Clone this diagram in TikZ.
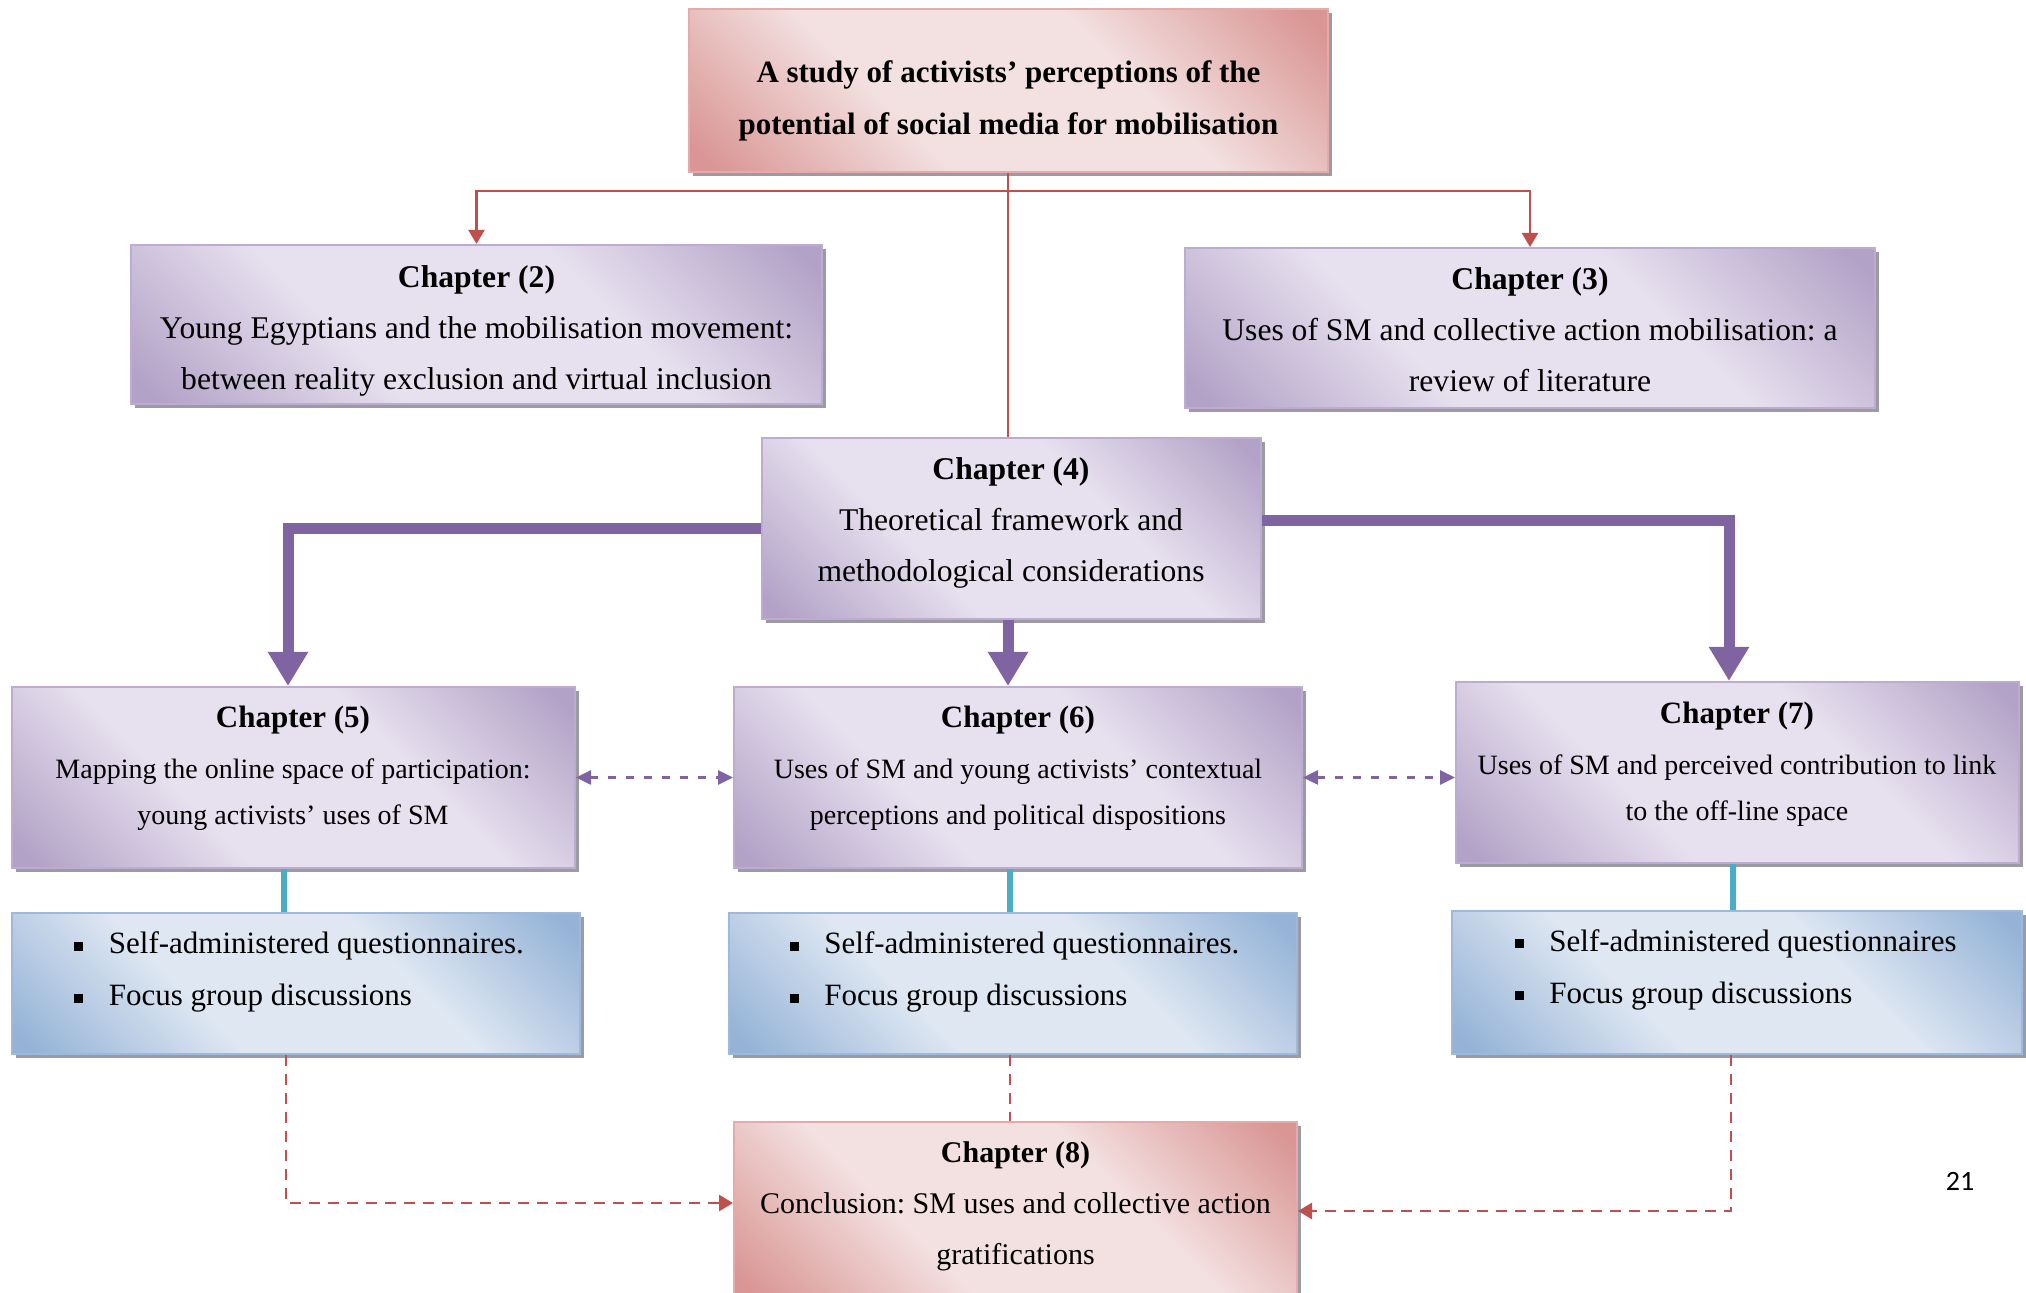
\documentclass[tikz,border=0pt]{standalone}
\usepackage{fontspec}
\setmainfont{Liberation Serif}
\newfontfamily\pagenumfont{Carlito}
\usetikzlibrary{arrows.meta,shadows,fit}
\frenchspacing
\definecolor{pdark}{HTML}{B3A2C7}
\definecolor{plight}{HTML}{E7E1EF}
\definecolor{pborder}{HTML}{BCACD2}
\definecolor{rdark}{HTML}{D99694}
\definecolor{rlight}{HTML}{F3E0E0}
\definecolor{rborder}{HTML}{E3ABAA}
\definecolor{bdark}{HTML}{95B3D7}
\definecolor{blight}{HTML}{DEE7F2}
\definecolor{bborder}{HTML}{9DB9DB}
\definecolor{redline}{HTML}{C0504D}
\definecolor{purpline}{HTML}{8064A2}
\definecolor{tealline}{HTML}{4BACC6}
\definecolor{shadowc}{HTML}{9E9AA4}
\pgfdeclarehorizontalshading{purpsh}{100bp}{color(0bp)=(pdark); color(17bp)=(pdark); color(38bp)=(plight); color(62bp)=(plight); color(83bp)=(pdark); color(100bp)=(pdark)}
\pgfdeclarehorizontalshading{redsh}{100bp}{color(0bp)=(rdark); color(17bp)=(rdark); color(38bp)=(rlight); color(62bp)=(rlight); color(83bp)=(rdark); color(100bp)=(rdark)}
\pgfdeclarehorizontalshading{bluesh}{100bp}{color(0bp)=(bdark); color(17bp)=(bdark); color(38bp)=(blight); color(62bp)=(blight); color(83bp)=(bdark); color(100bp)=(bdark)}
\newcommand\sqbullet{\makebox[17.25pt][l]{\raisebox{1.3pt}{\rule{4.5pt}{4.5pt}}}}
\tikzset{
  boxbase/.style={draw, line width=1pt, inner sep=0pt, shade, shading angle=45,
    drop shadow={shadow xshift=2pt, shadow yshift=-2pt, fill=shadowc, opacity=1}},
  pbox/.style={boxbase, draw=pborder, shading=purpsh},
  rbox/.style={boxbase, draw=rborder, shading=redsh},
  bbox/.style={boxbase, draw=bborder, shading=bluesh},
  titletxt/.style={align=center, inner sep=0pt, font=\bfseries\fontsize{15.5}{26}\selectfont},
  bigtxt/.style={align=center, inner sep=0pt, font=\fontsize{15.8}{25.5}\selectfont},
  midtxt/.style={align=center, inner sep=0pt, font=\fontsize{15}{25.5}\selectfont},
  smalltxt/.style={align=center, inner sep=0pt, font=\fontsize{14}{23.3}\selectfont},
  listtxt/.style={align=left, anchor=west, inner sep=0pt, font=\fontsize{15.5}{26}\selectfont},
  redplain/.style={draw=redline, line width=1.2pt},
  redarrow/.style={redplain, -{Triangle[width=8pt,length=7pt]}},
  reddash/.style={redplain, line width=1.4pt, dash pattern=on 5.5pt off 4pt},
  reddasharrow/.style={reddash, -{Triangle[width=8pt,length=7pt]}},
  bigarrow/.style={draw=purpline, line width=5.5pt, miter limit=10, line join=miter,
    -{Triangle[width=19pt,length=17pt]}},
  purpdash/.style={draw=purpline, line width=1.3pt, dash pattern=on 4pt off 5pt,
    {Triangle[width=7pt,length=7.5pt]}-{Triangle[width=7pt,length=7.5pt]}},
  tealc/.style={draw=tealline, line width=3pt},
}
\begin{document}
\begin{tikzpicture}[x=0.5pt, y=-0.5pt]
\useasboundingbox (0,0) rectangle (2026,1293);
% boxes
\node[rbox, fit={(689,9)(1328,172)}] (top) {};
\node[pbox, fit={(131,245)(822,404)}] (ch2) {};
\node[pbox, fit={(1185,248)(1875,408)}] (ch3) {};
\node[pbox, fit={(762,438)(1261,619)}] (ch4) {};
\node[pbox, fit={(12,687)(575,868)}] (ch5) {};
\node[pbox, fit={(734,687)(1302,868)}] (ch6) {};
\node[pbox, fit={(1456,682)(2019,863)}] (ch7) {};
\node[bbox, fit={(12,913)(580,1054)}] (b5) {};
\node[bbox, fit={(729,913)(1297,1054)}] (b6) {};
\node[bbox, fit={(1452,911)(2022,1054)}] (b7) {};
\node[rbox, fit={(734,1122)(1297,1300)}] (ch8) {};
% texts
\node[titletxt] (toptext) at (1008.5,101) {A study of activists’ perceptions of the\\potential of social media for mobilisation};
\node[bigtxt] (ch2text) at (476.5,330.5) {\textbf{Chapter (2)}\\Young Egyptians and the mobilisation movement:\\between reality exclusion and virtual inclusion};
\node[bigtxt] (ch3text) at (1530,329.5) {\textbf{Chapter (3)}\\Uses of SM and collective action mobilisation: a\\review of literature};
\node[bigtxt] (ch4text) at (1011,523) {\textbf{Chapter (4)}\\Theoretical framework and\\methodological considerations};
\node[smalltxt] (ch5text) at (293,768.5) {{\bfseries\fontsize{15.5}{23.3}\selectfont Chapter (5)}\\[2pt]Mapping the online space of participation:\\young activists’ uses of SM};
\node[smalltxt] (ch6text) at (1018,768.5) {{\bfseries\fontsize{15.5}{23.3}\selectfont Chapter (6)}\\[2pt]Uses of SM and young activists’ contextual\\perceptions and political dispositions};
\node[smalltxt] (ch7text) at (1737,764.5) {{\bfseries\fontsize{15.5}{23.3}\selectfont Chapter (7)}\\[2pt]Uses of SM and perceived contribution to link\\to the off-line space};
\node[midtxt] (ch8text) at (1015.5,1206) {\textbf{Chapter (8)}\\Conclusion: SM uses and collective action\\gratifications};
\node[listtxt] (b5text) at (74,972) {\sqbullet Self-administered questionnaires.\\\sqbullet Focus group discussions};
\node[listtxt] (b6text) at (789.5,972) {\sqbullet Self-administered questionnaires.\\\sqbullet Focus group discussions};
\node[listtxt] (b7text) at (1514.5,969.5) {\sqbullet Self-administered questionnaires\\\sqbullet Focus group discussions};
\node[inner sep=0pt, font=\pagenumfont\fontsize{14}{16}\selectfont] (pg) at (1960,1181) {21};
% helper coordinates
\coordinate (j) at (1008,191);
\coordinate (xl) at (288,0);
\coordinate (xr) at (1729,0);
\coordinate (yr) at (0,521);
\coordinate (x5) at (284,0);
\coordinate (x6) at (1010,0);
\coordinate (x7) at (1733,0);
\coordinate (x5r) at (286,0);
\coordinate (x7r) at (1731,0);
% red tree from the top
\draw[redplain] (j |- top.south) -- (j |- ch4.north);
\draw[redarrow] (j) -| (ch2.north);
\draw[redarrow] (j) -| (ch3.north);
% thick purple arrows
\draw[bigarrow] (ch4.west) -| (xl |- ch5.north);
\draw[bigarrow] (ch4.east |- yr) -| (xr |- ch7.north);
\draw[bigarrow] (j |- ch4.south) -- (j |- ch6.north);
% dashed double arrows
\draw[purpdash] (ch5.east) -- (ch6.west);
\draw[purpdash] (ch6.east) -- (ch6.east -| ch7.west);
% teal links
\draw[tealc] (x5 |- ch5.south) -- (x5 |- b5.north);
\draw[tealc] (x6 |- ch6.south) -- (x6 |- b6.north);
\draw[tealc] (x7 |- ch7.south) -- (x7 |- b7.north);
% red dashed to conclusion
\draw[reddasharrow] (x5r |- b5.south) |- ([yshift=4pt]ch8.west);
\draw[reddasharrow] (x7r |- b7.south) |- (ch8.east);
\draw[reddash] (x6 |- b6.south) -- (x6 |- ch8.north);
\end{tikzpicture}
\end{document}
